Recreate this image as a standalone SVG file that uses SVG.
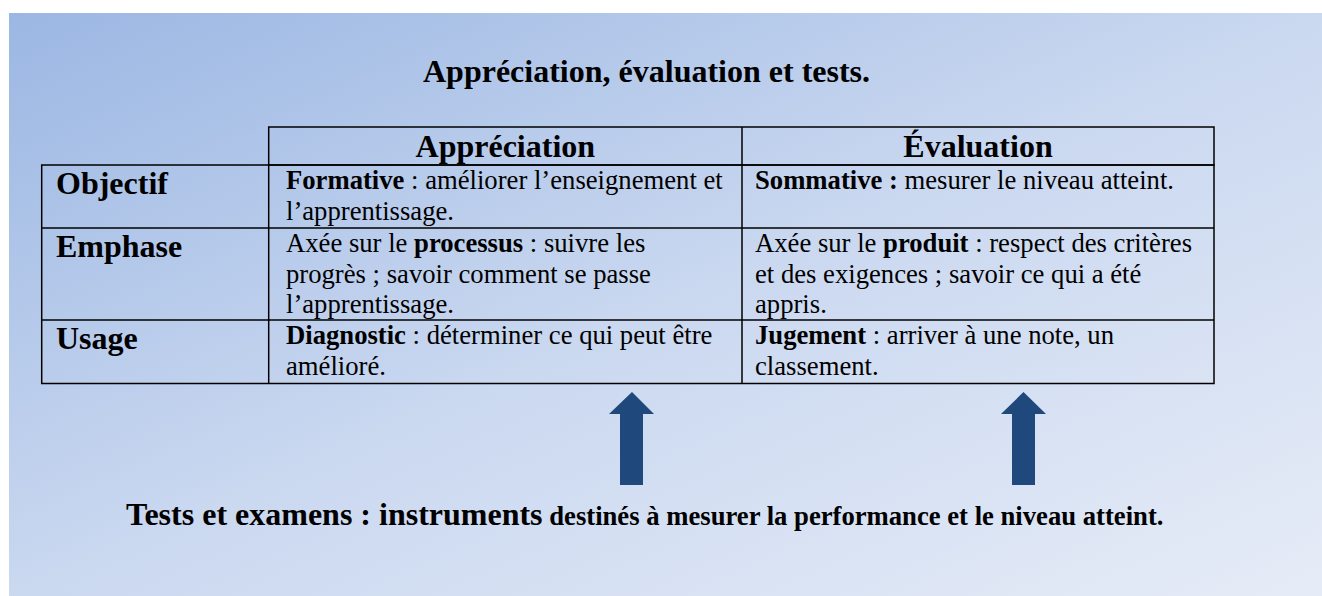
<svg xmlns="http://www.w3.org/2000/svg" width="1322" height="596" viewBox="0 0 1322 596">
  <defs>
    <linearGradient id="bg" x1="0" y1="0" x2="1" y2="1">
      <stop offset="0" stop-color="#9BB7E3"/>
      <stop offset="0.5" stop-color="#CAD8F0"/>
      <stop offset="1" stop-color="#E6ECF7"/>
    </linearGradient>
    <style>
      text { font-family: "Liberation Serif", "Times New Roman", serif; fill: #000; }
      .title { font-size: 32px; font-weight: bold; }
      .head { font-size: 32px; font-weight: bold; }
      .lab { font-size: 32px; font-weight: bold; }
      .cell { font-size: 26.67px; }
      .b { font-weight: bold; }
      .big { font-size: 32px; font-weight: bold; }
      .small { font-size: 26.67px; font-weight: bold; }
      .grid { fill: none; stroke: #000; stroke-width: 1.5; }
      .arrow { fill: #1F497D; }
    </style>
  </defs>

  <rect x="0" y="0" width="1322" height="596" fill="#FFFFFF"/>
  <rect x="9" y="13" width="1313" height="583" fill="url(#bg)"/>

  <g id="title">
    <text class="title" x="423" y="82">Appréciation, évaluation et tests.</text>
  </g>

  <g id="table">
    <g id="table-grid">
      <rect class="grid" x="268.7" y="127" width="945.3" height="38"/>
      <rect class="grid" x="41.7" y="165" width="1172.3" height="218.5"/>
      <line class="grid" x1="41.7" y1="228" x2="1214" y2="228"/>
      <line class="grid" x1="41.7" y1="320" x2="1214" y2="320"/>
      <line class="grid" x1="268.7" y1="165" x2="268.7" y2="383.5"/>
      <line class="grid" x1="742" y1="127" x2="742" y2="383.5"/>
    </g>
    <g id="header-appreciation">
      <text class="head" x="505.3" y="157" text-anchor="middle">Appréciation</text>
    </g>
    <g id="header-evaluation">
      <text class="head" x="978" y="157" text-anchor="middle">Évaluation</text>
    </g>
    <g id="row-objectif">
      <text class="lab" x="56" y="193.5">Objectif</text>
      <text class="cell" x="286" y="189"><tspan class="b">Formative</tspan> : améliorer l’enseignement et</text>
      <text class="cell" x="286" y="219.7">l’apprentissage.</text>
      <text class="cell" x="755" y="189"><tspan class="b">Sommative :</tspan> mesurer le niveau atteint.</text>
    </g>
    <g id="row-emphase">
      <text class="lab" x="56" y="256.5">Emphase</text>
      <text class="cell" x="286" y="252">Axée sur le <tspan class="b">processus</tspan> : suivre les</text>
      <text class="cell" x="286" y="282.7">progrès ; savoir comment se passe</text>
      <text class="cell" x="286" y="313.4">l’apprentissage.</text>
      <text class="cell" x="755" y="252">Axée sur le <tspan class="b">produit</tspan> : respect des critères</text>
      <text class="cell" x="755" y="282.7">et des exigences ; savoir ce qui a été</text>
      <text class="cell" x="755" y="313.4">appris.</text>
    </g>
    <g id="row-usage">
      <text class="lab" x="56" y="348.5">Usage</text>
      <text class="cell" x="286" y="344"><tspan class="b">Diagnostic</tspan> : déterminer ce qui peut être</text>
      <text class="cell" x="286" y="374.7">amélioré.</text>
      <text class="cell" x="755" y="344"><tspan class="b">Jugement</tspan> : arriver à une note, un</text>
      <text class="cell" x="755" y="374.7">classement.</text>
    </g>
  </g>

  <g id="connectors">
    <path class="arrow" d="M632,392 L654,414 L643,414 L643,485 L620,485 L620,414 L609,414 Z"/>
    <path class="arrow" d="M1023.5,392 L1046,414 L1035,414 L1035,485 L1012,485 L1012,414 L1001,414 Z"/>
  </g>

  <g id="tests">
    <text x="126" y="525"><tspan class="big">Tests et examens : instruments</tspan><tspan class="small"> destinés à mesurer la performance et le niveau atteint.</tspan></text>
  </g>
</svg>
